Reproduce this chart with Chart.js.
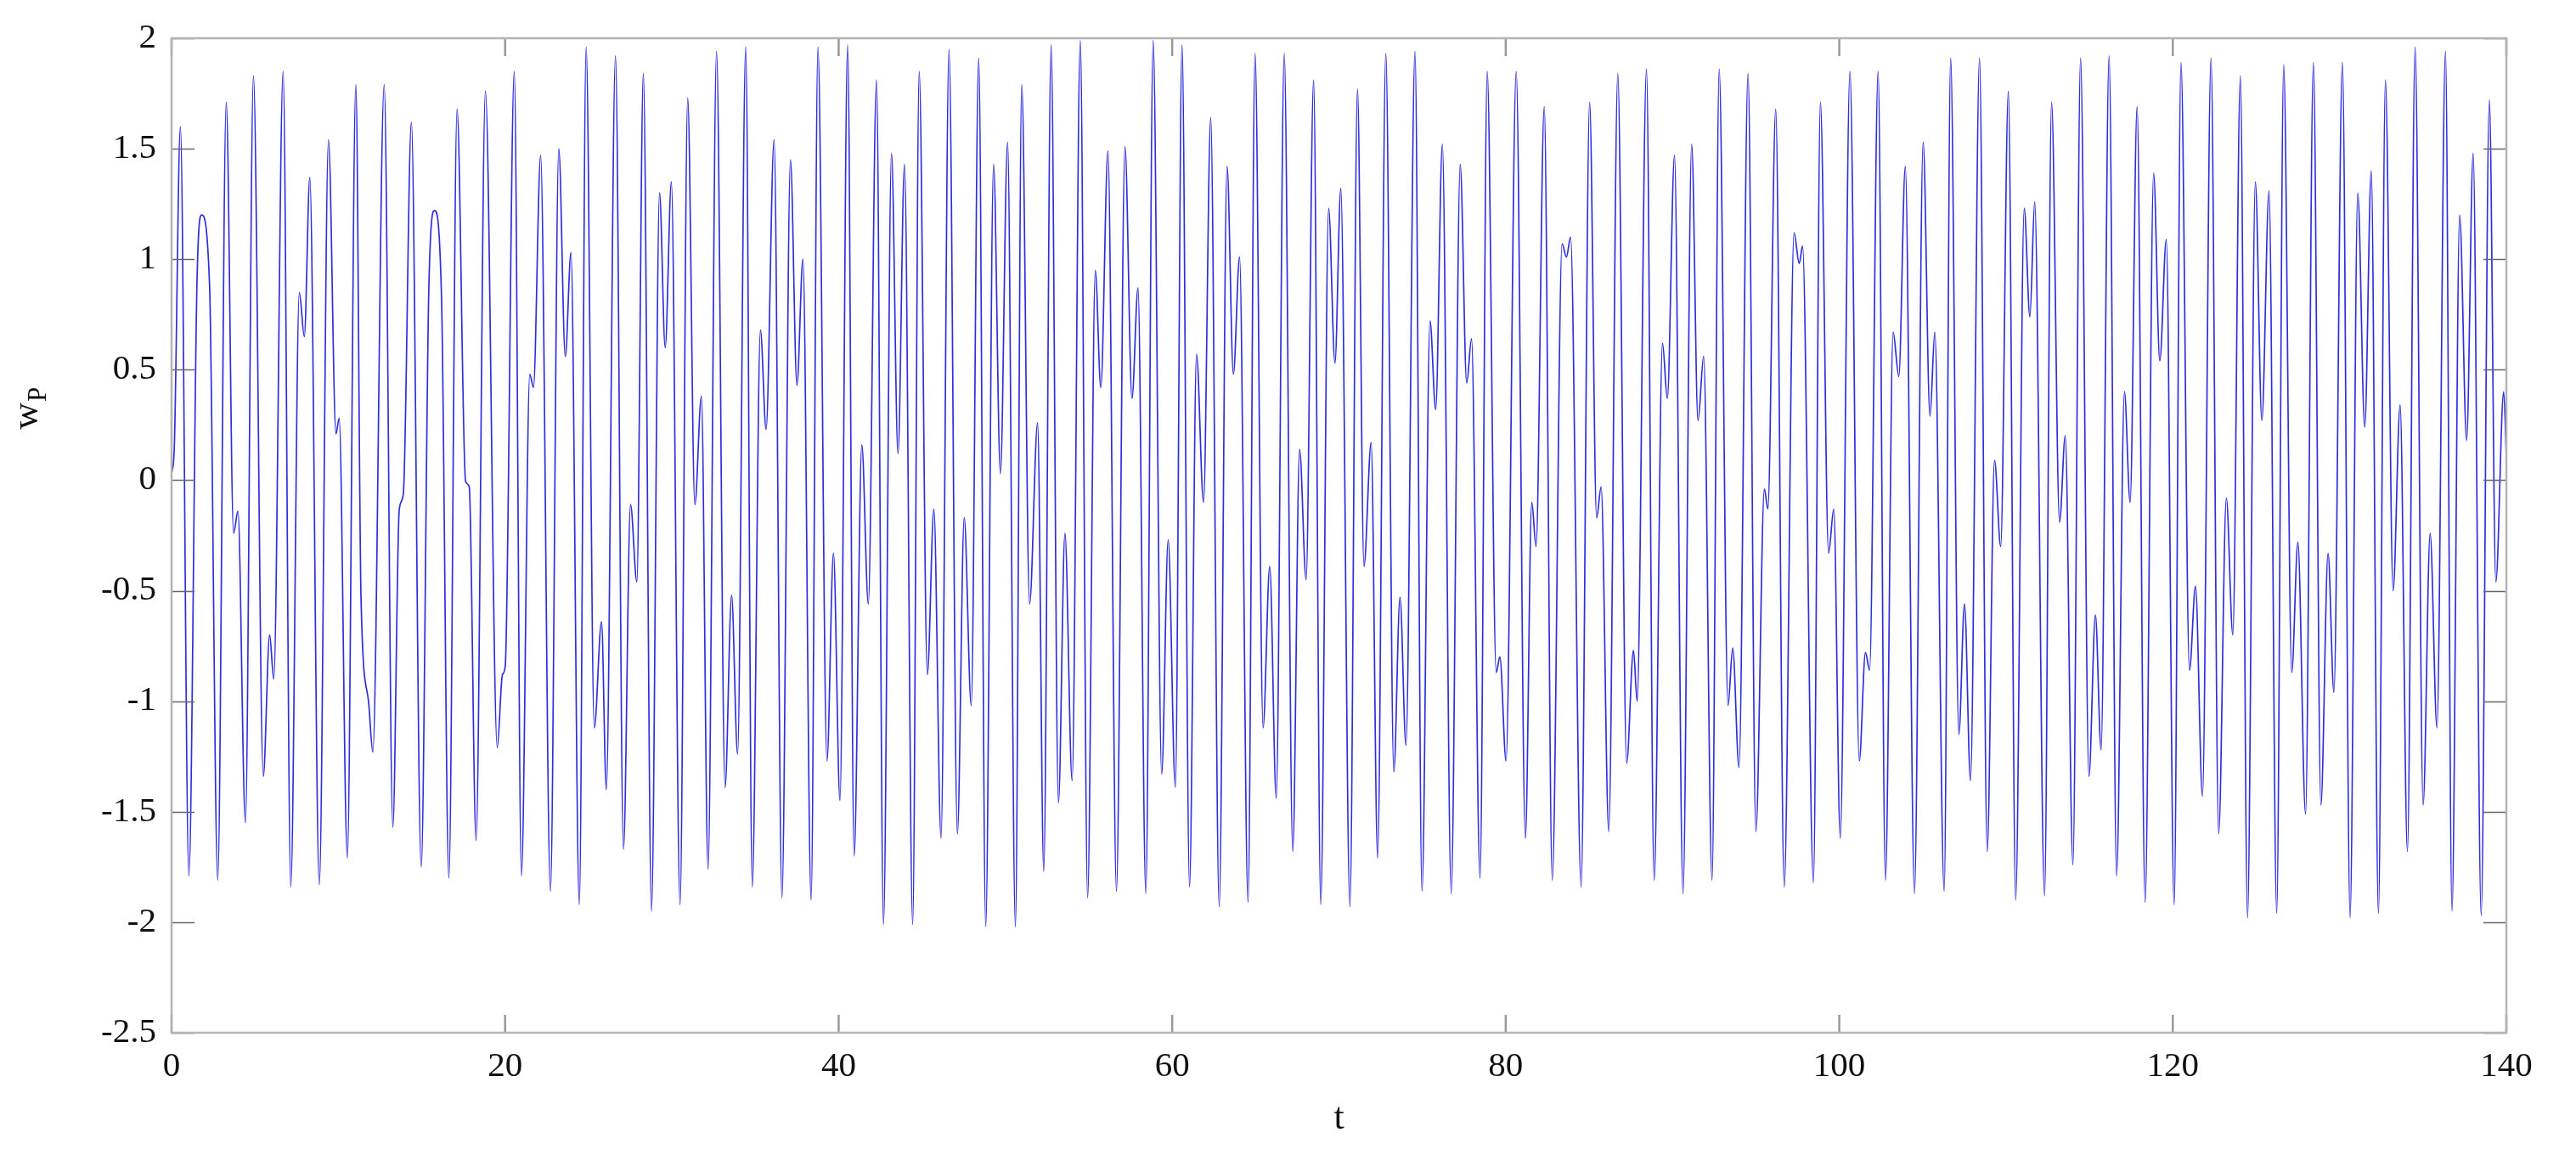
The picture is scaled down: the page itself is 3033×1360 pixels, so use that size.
<!DOCTYPE html>
<html>
<head>
<meta charset="utf-8">
<script src="https://cdn.jsdelivr.net/npm/chart.js@4.4.1/dist/chart.umd.min.js"></script>
<style>
  html, body { margin: 0; padding: 0; background: #fff; }
  #wp { display: block; }
</style>
</head>
<body>
<canvas id="wp" width="3033" height="1360"></canvas>
<script>
// time samples (t), at the turning points of the curve
const tValues = [
  0.00, 0.16, 0.53, 1.04, 1.52, 1.80, 2.28, 2.77, 3.28, 3.72, 3.98, 4.43, 4.91, 5.50, 5.88, 6.13, 6.69, 7.15,
  7.66, 7.96, 8.29, 8.86, 9.41, 9.86, 10.05, 10.54, 11.05, 11.36, 11.81, 12.07, 12.75, 13.27, 13.65, 13.90,
  14.38, 14.97, 15.43, 15.77, 16.19, 16.63, 17.12, 17.63, 17.85, 18.26, 18.82, 19.53, 19.84, 20.01, 20.55,
  20.98, 21.48, 21.70, 22.13, 22.72, 23.22, 23.61, 23.95, 24.45, 24.86, 25.35, 25.78, 26.07, 26.62, 27.10,
  27.52, 27.90, 28.29, 28.78, 29.26, 29.60, 29.97, 30.49, 30.95, 31.38, 31.77, 32.17, 32.68, 33.19, 33.58,
  33.94, 34.43, 34.82, 35.31, 35.65, 36.13, 36.60, 37.11, 37.50, 37.86, 38.35, 38.76, 39.30, 39.69, 40.08,
  40.54, 40.93, 41.39, 41.78, 42.27, 42.69, 43.17, 43.56, 43.95, 44.44, 44.83, 45.32, 45.71, 46.14, 46.62,
  47.12, 47.53, 47.95, 48.40, 48.82, 49.29, 49.70, 50.13, 50.60, 50.98, 51.45, 51.93, 52.30, 52.74, 53.18,
  53.57, 54.00, 54.49, 54.93, 55.39, 55.72, 56.15, 56.66, 57.17, 57.59, 57.95, 58.42, 58.86, 59.37, 59.76,
  60.19, 60.59, 61.04, 61.46, 61.88, 62.31, 62.82, 63.29, 63.67, 64.04, 64.55, 64.97, 65.45, 65.85, 66.24,
  66.72, 67.23, 67.64, 68.03, 68.48, 68.91, 69.38, 69.76, 70.11, 70.66, 71.11, 71.50, 71.93, 72.32, 72.81,
  73.29, 73.66, 74.02, 74.56, 74.98, 75.46, 75.80, 76.20, 76.73, 77.27, 77.66, 77.95, 78.46, 78.89, 79.43,
  79.65, 80.02, 80.63, 81.18, 81.56, 81.82, 82.31, 82.79, 83.38, 83.64, 83.89, 84.52, 85.03, 85.45, 85.72,
  86.18, 86.72, 87.25, 87.66, 87.88, 88.44, 88.90, 89.40, 89.69, 90.12, 90.63, 91.15, 91.53, 91.87, 92.37,
  92.80, 93.33, 93.61, 93.99, 94.53, 95.00, 95.51, 95.72, 96.19, 96.70, 97.29, 97.60, 97.80, 98.45, 98.87,
  99.36, 99.67, 100.06, 100.64, 101.20, 101.57, 101.82, 102.33, 102.77, 103.23, 103.57, 103.96, 104.51,
  105.03, 105.44, 105.73, 106.29, 106.68, 107.17, 107.51, 107.87, 108.41, 108.87, 109.31, 109.68, 110.14,
  110.58, 111.09, 111.43, 111.72, 112.31, 112.73, 113.21, 113.55, 114.01, 114.47, 114.97, 115.36, 115.70,
  116.18, 116.63, 117.10, 117.44, 117.86, 118.34, 118.85, 119.22, 119.61, 120.08, 120.49, 121.00, 121.36,
  121.78, 122.29, 122.75, 123.21, 123.60, 124.05, 124.48, 124.95, 125.34, 125.77, 126.23, 126.65, 127.13,
  127.50, 127.96, 128.43, 128.88, 129.31, 129.66, 130.17, 130.63, 131.09, 131.51, 131.90, 132.33, 132.75,
  133.21, 133.63, 134.07, 134.53, 135.01, 135.43, 135.84, 136.35, 136.74, 137.20, 137.62, 138.01, 138.49,
  138.98, 139.37, 139.84, 140.00
];

// w_P at those instants
const wValues = [
  0.03, 0.14, 1.60, -1.79, 0.88, 1.20, 0.88, -1.81, 1.71, -0.24, -0.14, -1.55, 1.83, -1.34, -0.70, -0.90, 1.85, -1.84,
  0.85, 0.65, 1.37, -1.83, 1.54, 0.21, 0.28, -1.71, 1.79, -0.53, -1.00, -1.23, 1.79, -1.57, -0.135, -0.06,
  1.62, -1.75, 0.88, 1.22, 0.82, -1.80, 1.68, -0.005, -0.03, -1.63, 1.76, -1.21, -0.88, -0.84, 1.85,
  -1.79, 0.48, 0.42, 1.47, -1.86, 1.50, 0.56, 1.03, -1.92, 1.96, -1.12, -0.64, -1.40, 1.92, -1.67,
  -0.11, -0.46, 1.84, -1.95, 1.30, 0.60, 1.35, -1.92, 1.73, -0.11, 0.38, -1.76, 1.94, -1.39, -0.52,
  -1.24, 1.96, -1.84, 0.68, 0.23, 1.54, -1.89, 1.45, 0.43, 1.00, -1.90, 1.96, -1.27, -0.33, -1.45,
  1.97, -1.70, 0.16, -0.56, 1.81, -2.01, 1.48, 0.12, 1.43, -2.01, 1.85, -0.88, -0.13, -1.62, 1.95,
  -1.60, -0.17, -1.02, 1.91, -2.02, 1.43, 0.03, 1.53, -2.02, 1.79, -0.56, 0.26, -1.77, 1.97, -1.46,
  -0.24, -1.36, 1.99, -1.89, 0.95, 0.42, 1.49, -1.86, 1.51, 0.37, 0.87, -1.87, 1.99, -1.33, -0.27,
  -1.39, 1.97, -1.84, 0.57, -0.10, 1.64, -1.93, 1.42, 0.48, 1.01, -1.91, 1.93, -1.12, -0.39, -1.44,
  1.93, -1.68, 0.14, -0.45, 1.81, -1.92, 1.23, 0.53, 1.32, -1.93, 1.77, -0.39, 0.17, -1.71, 1.93,
  -1.32, -0.53, -1.20, 1.94, -1.86, 0.72, 0.32, 1.52, -1.87, 1.43, 0.44, 0.64, -1.80, 1.85, -0.87,
  -0.80, -1.27, 1.85, -1.62, -0.10, -0.30, 1.69, -1.81, 1.07, 1.01, 1.10, -1.84, 1.71, -0.17, -0.03,
  -1.59, 1.84, -1.28, -0.77, -1.00, 1.86, -1.81, 0.62, 0.37, 1.47, -1.87, 1.52, 0.27, 0.56, -1.81,
  1.86, -1.02, -0.76, -1.30, 1.84, -1.59, -0.04, -0.13, 1.68, -1.84, 1.12, 0.98, 1.06, -1.82, 1.71,
  -0.33, -0.13, -1.62, 1.85, -1.27, -0.78, -0.86, 1.85, -1.81, 0.67, 0.47, 1.42, -1.87,
  1.53, 0.29, 0.67, -1.86, 1.91, -1.15, -0.56, -1.36, 1.91, -1.68, 0.09, -0.30, 1.76,
  -1.90, 1.23, 0.74, 1.26, -1.88, 1.71, -0.19, 0.20, -1.74, 1.91, -1.34, -0.61, -1.22,
  1.92, -1.79, 0.40, -0.10, 1.69, -1.91, 1.39, 0.54, 1.09, -1.92, 1.89, -0.86, -0.48,
  -1.43, 1.91, -1.60, -0.08, -0.70, 1.83, -1.98, 1.35, 0.27, 1.31, -1.96, 1.88, -0.87,
  -0.28, -1.51, 1.89, -1.47, -0.33, -0.96, 1.89, -1.98, 1.30, 0.24, 1.40, -1.96, 1.81,
  -0.50, 0.34, -1.68, 1.96, -1.47, -0.24, -1.12, 1.94, -1.95, 1.20, 0.18, 1.48, -1.97,
  1.72, -0.46, 0.40, 0.11
];

const xTicks = [0, 20, 40, 60, 80, 100, 120, 140];
const yTicks = [-2.5, -2, -1.5, -1, -0.5, 0, 0.5, 1, 1.5, 2];

const SERIF = "'Liberation Serif', 'Times New Roman', serif";

// ── matlab-style box + inward ticks + y label with subscript ──
const boxPlugin = {
  id: 'boxTicks',
  afterDraw(chart) {
    const { ctx, chartArea: a, scales } = chart;
    ctx.save();

    // inward ticks
    ctx.strokeStyle = '#666';
    ctx.lineWidth = 1.5;
    yTicks.forEach(v => {
      const y = Math.round(scales.y.getPixelForValue(v)) + 0.5;
      ctx.beginPath();
      ctx.moveTo(a.left, y); ctx.lineTo(a.left + 27, y);
      ctx.moveTo(a.right, y); ctx.lineTo(a.right - 27, y);
      ctx.stroke();
    });
    ctx.strokeStyle = '#999';
    ctx.lineWidth = 2.5;
    xTicks.forEach(v => {
      const x = scales.x.getPixelForValue(v);
      ctx.beginPath();
      ctx.moveTo(x, a.top); ctx.lineTo(x, a.top + 21);
      ctx.moveTo(x, a.bottom); ctx.lineTo(x, a.bottom - 21);
      ctx.stroke();
    });

    // frame
    ctx.strokeStyle = '#b4b4b4';
    ctx.lineWidth = 2.5;
    ctx.strokeRect(a.left, a.top, a.right - a.left, a.bottom - a.top);

    // y label: w with subscript P, rotated
    ctx.fillStyle = '#111';
    ctx.translate(44, 474);
    ctx.rotate(-Math.PI / 2);
    ctx.textBaseline = 'alphabetic';
    ctx.textAlign = 'left';
    ctx.font = '44px ' + SERIF;
    const ww = ctx.measureText('w').width;
    ctx.fillText('w', -ww, 0);
    ctx.font = '31px ' + SERIF;
    ctx.fillText('P', 1, 10);
    ctx.restore();
  }
};

new Chart(document.getElementById('wp'), {
  type: 'line',
  data: {
    datasets: [{
      data: tValues.map((t, i) => ({ x: t, y: wValues[i] })),
      borderColor: 'rgba(35,35,220,0.95)',
      borderWidth: 1.7,
      pointRadius: 0,
      fill: false,
      cubicInterpolationMode: 'monotone'
    }]
  },
  options: {
    responsive: false,
    animation: false,
    devicePixelRatio: 1,
    layout: { padding: { top: 45, right: 82, left: 0, bottom: 0 } },
    plugins: { legend: { display: false }, tooltip: { enabled: false } },
    scales: {
      x: {
        type: 'linear',
        min: 0, max: 140,
        afterBuildTicks: s => { s.ticks = xTicks.map(v => ({ value: v })); },
        afterFit: s => { s.height = 144; },
        grid: { display: false, drawTicks: false },
        border: { display: false },
        ticks: { color: '#111', padding: 16, maxRotation: 0, font: { family: SERIF, size: 41 } },
        title: { display: true, text: 't', color: '#111', padding: { top: 0, bottom: 16 }, font: { family: SERIF, size: 44 } }
      },
      y: {
        type: 'linear',
        min: -2.5, max: 2,
        afterBuildTicks: s => { s.ticks = yTicks.map(v => ({ value: v })); },
        afterFit: s => { s.width = 202; },
        grid: { display: false, drawTicks: false },
        border: { display: false },
        ticks: { color: '#111', padding: 18, callback: v => String(v), font: { family: SERIF, size: 41 } }
      }
    }
  },
  plugins: [boxPlugin]
});
</script>
</body>
</html>
